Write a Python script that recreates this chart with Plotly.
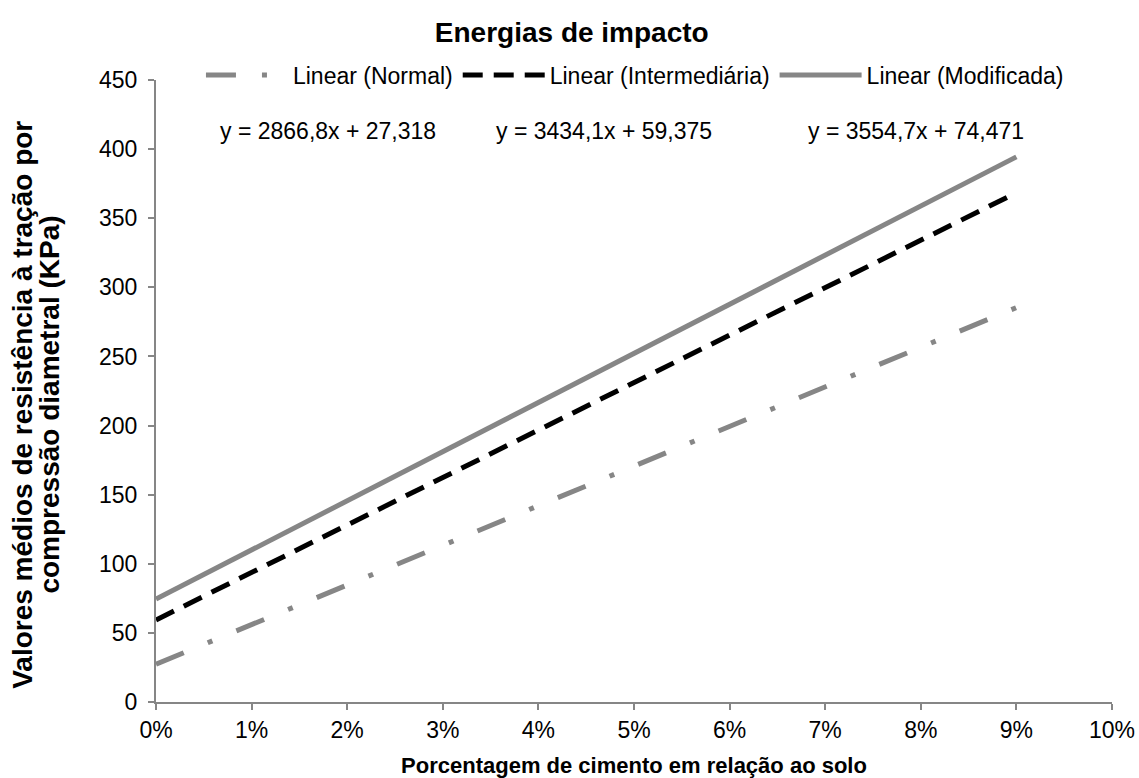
import plotly.graph_objects as go

# Trend lines of mean tensile strength (diametral compression) vs. cement content
x_pct = [0.0, 0.09]
normal = [27.318, 285.330]          # y = 2866,8x + 27,318
intermediaria = [59.375, 368.444]   # y = 3434,1x + 59,375
modificada = [74.471, 394.394]      # y = 3554,7x + 74,471

names = ["Linear (Normal)", "Linear (Intermediária)", "Linear (Modificada)"]
equations = ["y = 2866,8x + 27,318", "y = 3434,1x + 59,375", "y = 3554,7x + 74,471"]
x_ticks = [0, 0.01, 0.02, 0.03, 0.04, 0.05, 0.06, 0.07, 0.08, 0.09, 0.10]
x_tick_text = ["0%", "1%", "2%", "3%", "4%", "5%", "6%", "7%", "8%", "9%", "10%"]
y_ticks = [0, 50, 100, 150, 200, 250, 300, 350, 400, 450]
y_title_lines = ["Valores médios de resistência à tração por", "compressão diametral (KPa)"]

GRAY = "#868686"
FONT = "Liberation Sans, Arial, sans-serif"

fig = go.Figure()
fig.add_trace(go.Scatter(x=x_pct, y=normal, mode="lines", name=names[0],
                         line=dict(color=GRAY, width=5, dash="30px,26px,5px,26px")))
fig.add_trace(go.Scatter(x=x_pct, y=intermediaria, mode="lines", name=names[1],
                         line=dict(color="#000000", width=5, dash="20px,11px")))
fig.add_trace(go.Scatter(x=x_pct, y=modificada, mode="lines", name=names[2],
                         line=dict(color=GRAY, width=5)))

# regression equations above the lines
eq_x = [0.018, 0.0469, 0.0795]
for ex, txt in zip(eq_x, equations):
    fig.add_annotation(x=ex, y=413, xref="x", yref="y", text=txt, showarrow=False,
                       font=dict(family=FONT, size=23, color="#000000"),
                       xanchor="center", yanchor="middle")

# two-line vertical axis title, set with tight line spacing
for lx, line in zip([-0.139, -0.111], y_title_lines):
    fig.add_annotation(x=lx, y=0.478, xref="paper", yref="paper", text=f"<b>{line}</b>",
                       textangle=-90, showarrow=False, xanchor="center", yanchor="middle",
                       font=dict(family=FONT, size=28, color="#000000"))

fig.update_layout(
    width=1139, height=778,
    margin=dict(l=156, r=27, t=80, b=76, autoexpand=False),
    paper_bgcolor="white", plot_bgcolor="white",
    font=dict(family=FONT, size=23, color="#000000"),
    title=dict(text="<b>Energias de impacto</b>", x=0.502, xref="container", xanchor="center",
               y=1 - 32 / 778, yanchor="middle", font=dict(size=28)),
    legend=dict(orientation="h", x=0.501, xanchor="center", y=1.008, yanchor="middle",
                font=dict(size=23), bgcolor="rgba(0,0,0,0)", itemwidth=82,
                traceorder="normal"),
    showlegend=True,
)
fig.update_xaxes(range=[0, 0.10], tickvals=x_ticks, ticktext=x_tick_text, automargin=False,
                 showgrid=False, zeroline=False, showline=True, linecolor=GRAY, linewidth=2,
                 ticks="outside", ticklen=6, tickcolor=GRAY, tickwidth=2,
                 tickfont=dict(size=23),
                 title=dict(text="<b>Porcentagem de cimento em relação ao solo</b>",
                            font=dict(size=22), standoff=16))
fig.update_yaxes(range=[0, 450], tickvals=y_ticks, automargin=False,
                 showgrid=False, zeroline=False, showline=True, linecolor=GRAY, linewidth=2,
                 ticks="outside", ticklen=6, tickcolor=GRAY, tickwidth=2,
                 ticklabelstandoff=6, tickfont=dict(size=23))

fig.write_html("out.html")
